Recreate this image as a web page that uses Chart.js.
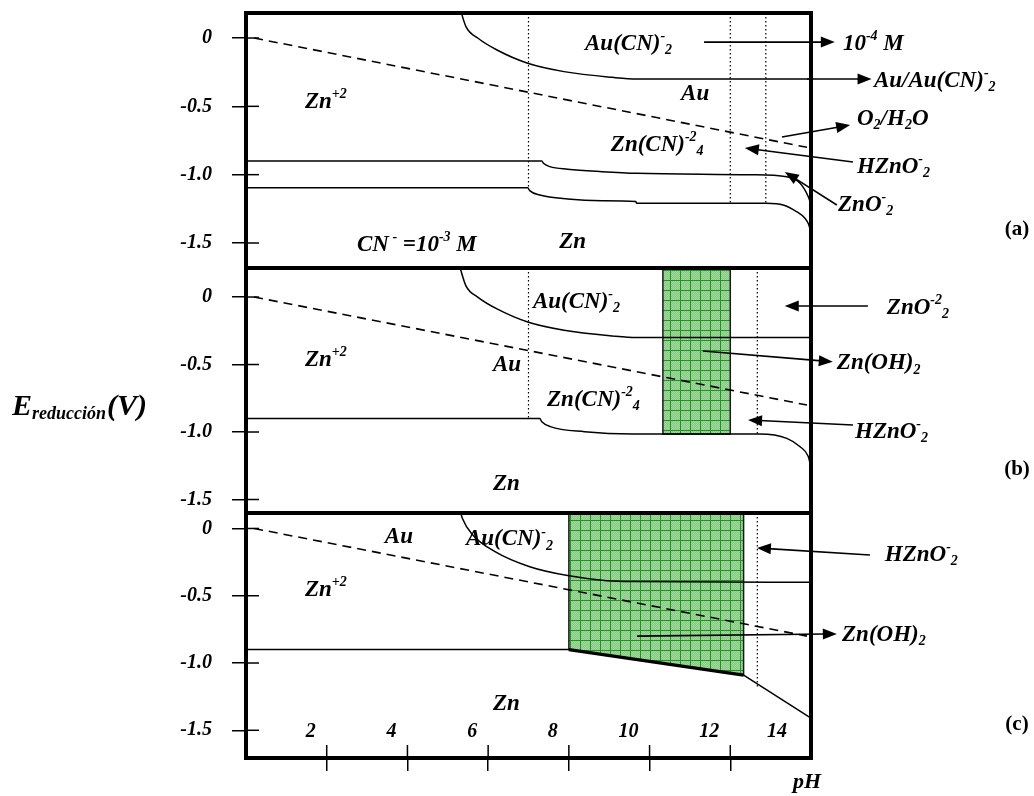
<!DOCTYPE html>
<html><head><meta charset="utf-8">
<script src="https://cdn.jsdelivr.net/npm/chart.js@4/dist/chart.umd.min.js"></script>
<style>
html,body{margin:0;padding:0;background:#fff;}
#wrap{position:relative;width:1034px;height:796px;overflow:hidden;background:#fff;}
#wrap canvas{position:absolute;left:0;top:0;}
</style></head><body>
<div id="wrap">
<canvas id="ca" width="1034" height="796"></canvas>
<canvas id="cb" width="1034" height="796"></canvas>
<canvas id="cc" width="1034" height="796"></canvas>
</div>
<script>
// ---------- tick labels ----------
const xTickValues = [2, 4, 6, 8, 10, 12, 14];
const xTickLabels = ['2', '4', '6', '8', '10', '12', '14'];
const yTickValues = [0, -0.5, -1.0, -1.5];
const yTickLabels = ['0', '-0.5', '-1.0', '-1.5'];

// ---------- shared: H2 / water line (dashed) ----------
const h2PH = [0.2, 13.9];
const h2E  = [0.0, -0.80];

// ---------- panel (a) ----------
const auAB_PH = [5.30, 5.45, 5.75, 6.22, 6.98, 7.88, 9.08, 9.68, 14.0];
const auAB_E  = [0.22, 0.083, -0.002, -0.088, -0.185, -0.246, -0.288, -0.300, -0.300];
const znUpA_PH = [0, 7.33, 7.37, 7.53, 7.97, 8.82, 9.68, 12.5, 13.4, 13.73, 13.93, 14.0];
const znUpA_E  = [-0.90, -0.90, -0.917, -0.941, -0.960, -0.978, -0.990, -1.000, -1.015, -1.063, -1.160, -1.220];
const znLoA_PH = [0, 6.98, 7.03, 7.28, 7.97, 8.82, 9.66, 9.68, 12.9, 13.31, 13.64, 13.85, 13.93, 14.0];
const znLoA_E  = [-1.095, -1.095, -1.117, -1.149, -1.178, -1.190, -1.197, -1.210, -1.210, -1.222, -1.270, -1.319, -1.356, -1.420];
const dotA_PH = [7.0, 12.0, 12.88];
const dotA_E  = [-1.095, -1.21, -1.21];

// ---------- panel (b) ----------
const znB_PH = [0, 7.28, 7.33, 7.54, 8.39, 9.59, 12.73, 13.40, 13.73, 13.93, 14.0];
const znB_E  = [-0.90, -0.90, -0.924, -0.960, -0.998, -1.015, -1.015, -1.047, -1.109, -1.180, -1.260];
const dotB_PH = [7.0, 12.67];
const dotB_E  = [-0.90, -1.015];
const znOHB_PH = [10.33, 12.0];
const znOHB_E  = -1.015;

// ---------- panel (c) ----------
const auC_PH = [5.30, 5.36, 5.62, 6.17, 7.03, 7.97, 8.94, 9.68, 14.0];
const auC_E  = [0.14, 0.076, -0.048, -0.172, -0.284, -0.350, -0.388, -0.395, -0.400];
const znC_PH = [0, 8.0];
const znC_E  = [-0.90, -0.90];
const znOHC_PH = [8.0, 12.33];
const znOHC_E  = [-0.90, -1.09];
const znHC_PH = [12.33, 14.0];
const znHC_E  = [-1.09, -1.41];
const dotC_PH = [12.67];
const dotC_E  = [-1.19];

// ---------- annotations (data units: pH, E) ----------
const labelsA = [
  ['Zn^{+2}', 1.46, -0.454], ['Au(CN)^{-}_{2}', 8.4, -0.03], ['Au', 10.78, -0.40],
  ['Zn(CN)^{-2}_{4}', 9.04, -0.77], ['CN^{ -} =10^{-3} M', 2.75, -1.50], ['Zn', 7.76, -1.48],
  ['10^{-4} M', 14.79, -0.03], ['Au/Au(CN)^{-}_{2}', 15.56, -0.30], ['O_{2}/H_{2}O', 15.14, -0.578],
  ['HZnO^{-}_{2}', 15.14, -0.93], ['ZnO^{-}_{2}', 14.67, -1.207]
];
const arrowsA = [
  [11.35, -0.03, 14.59, -0.03], [13.9, -0.30, 15.5, -0.30], [13.28, -0.724, 14.97, -0.637],
  [15.04, -0.907, 12.36, -0.805], [14.64, -1.222, 13.35, -0.98]
];
const labelsB = [
  ['Zn^{+2}', 1.46, -0.452], ['Au(CN)^{-}_{2}', 7.11, -0.022], ['Au', 6.12, -0.489],
  ['Zn(CN)^{-2}_{4}', 7.46, -0.748], ['Zn', 6.12, -1.37],
  ['ZnO^{-2}_{2}', 15.88, -0.067], ['Zn(OH)_{2}', 14.64, -0.48], ['HZnO^{-}_{2}', 15.09, -0.985]
];
const arrowsB = [
  [15.41, -0.067, 13.35, -0.067], [11.32, -0.40, 14.54, -0.48], [15.04, -0.948, 12.44, -0.911]
];
const labelsC = [
  ['Au', 3.44, -0.048], ['Au(CN)^{-}_{2}', 5.45, -0.07], ['Zn^{+2}', 1.46, -0.442], ['Zn', 6.12, -1.29],
  ['HZnO^{-}_{2}', 15.83, -0.182], ['Zn(OH)_{2}', 14.77, -0.777]
];
const arrowsC = [
  [15.46, -0.197, 12.66, -0.145], [9.69, -0.80, 14.64, -0.784]
];

// ---------- helpers ----------
const FONT = '"Liberation Serif", "Times New Roman", serif';
function pts(xs, ys) { return xs.map((x, i) => ({x: x, y: ys[i]})); }
function line(xs, ys, o) {
  return Object.assign({data: pts(xs, ys), borderColor: '#000', borderWidth: 1.5, pointRadius: 0,
    fill: false, tension: 0}, o || {});
}
function curve(xs, ys) { return line(xs, ys, {cubicInterpolationMode: 'monotone'}); }
function dotted(phs, ends, top) {
  return phs.map((p, i) => line([p, p], [top, ends[i]], {borderDash: [1.5, 2.5], borderWidth: 1.2}));
}

const patCanvas = document.createElement('canvas');
patCanvas.width = 10; patCanvas.height = 10;
(function () {
  const g = patCanvas.getContext('2d');
  g.fillStyle = '#86c983'; g.fillRect(0, 0, 10, 10);
  g.fillStyle = '#a3d8a0';
  for (let i = 0; i < 10; i++) for (let j = 0; j < 10; j++) if ((i + j) % 2 === 0) g.fillRect(i, j, 1, 1);
  g.fillStyle = '#229322'; g.fillRect(0, 0, 10, 1); g.fillRect(0, 0, 1, 10);
})();
const greenPattern = document.createElement('canvas').getContext('2d').createPattern(patCanvas, 'repeat');

function richParts(s) {
  const out = []; const re = /\^\{([^}]*)\}|_\{([^}]*)\}|([^\^_]+)/g; let m;
  while ((m = re.exec(s))) {
    if (m[1] !== undefined) out.push([m[1], 'sup']);
    else if (m[2] !== undefined) out.push([m[2], 'sub']);
    else out.push([m[3], '']);
  }
  return out;
}
function drawRich(ctx, s, x, y, size) {
  const parts = richParts(s);
  const small = Math.round(size * 0.62);
  const f = sz => 'italic bold ' + sz + 'px ' + FONT;
  ctx.textBaseline = 'alphabetic'; ctx.textAlign = 'left'; ctx.fillStyle = '#000';
  const base = y + size * 0.33;
  let cx = x;
  parts.forEach(([t, m]) => {
    ctx.font = f(m ? small : size);
    let yy = base;
    if (m === 'sup') yy = base - size * 0.42;
    if (m === 'sub') yy = base + size * 0.2;
    ctx.fillText(t, cx, yy);
    cx += ctx.measureText(t).width;
  });
}
function arrow(ctx, x1, y1, x2, y2) {
  const a = Math.atan2(y2 - y1, x2 - x1), L = 14, W = 5.5;
  ctx.beginPath(); ctx.moveTo(x1, y1); ctx.lineTo(x2 - L * 0.8 * Math.cos(a), y2 - L * 0.8 * Math.sin(a)); ctx.stroke();
  ctx.beginPath(); ctx.moveTo(x2, y2);
  ctx.lineTo(x2 - L * Math.cos(a) + W * Math.sin(a), y2 - L * Math.sin(a) - W * Math.cos(a));
  ctx.lineTo(x2 - L * Math.cos(a) - W * Math.sin(a), y2 - L * Math.sin(a) + W * Math.cos(a));
  ctx.closePath(); ctx.fill();
}

function panelPlugin(cfg) {
  return {
    id: 'panel_' + cfg.tag,
    afterDraw(chart) {
      const ctx = chart.ctx, ca = chart.chartArea, xs = chart.scales.x, ys = chart.scales.y;
      ctx.save();
      ctx.strokeStyle = '#000'; ctx.fillStyle = '#000'; ctx.lineWidth = 1.5;
      // inner half of y ticks
      yTickValues.forEach(v => {
        const py = ys.getPixelForValue(v);
        ctx.beginPath(); ctx.moveTo(ca.left, py); ctx.lineTo(ca.left + 13, py); ctx.stroke();
      });
      if (cfg.showX) {
        ctx.font = 'italic bold 20px ' + FONT; ctx.textAlign = 'right'; ctx.textBaseline = 'middle';
        xTickValues.forEach((v, i) => {
          const px = xs.getPixelForValue(v);
          if (v < 14) {
            ctx.beginPath(); ctx.moveTo(px, ca.bottom - 13); ctx.lineTo(px, ca.bottom); ctx.stroke();
          }
          ctx.fillText(xTickLabels[i], Math.min(px - 11, ca.right - 24), ca.bottom - 26);
        });
        // x-axis title
        ctx.font = 'italic bold 22px ' + FONT; ctx.textAlign = 'left'; ctx.textBaseline = 'middle';
        ctx.fillText('pH', ca.right - 18, ca.bottom + 24);
      }
      // arrows
      ctx.lineWidth = 1.6;
      cfg.arrows.forEach(a => arrow(ctx, xs.getPixelForValue(a[0]), ys.getPixelForValue(a[1]),
                                        xs.getPixelForValue(a[2]), ys.getPixelForValue(a[3])));
      // labels
      cfg.labels.forEach(l => drawRich(ctx, l[0], xs.getPixelForValue(l[1]), ys.getPixelForValue(l[2]), 23));
      // panel tag (a)/(b)/(c)
      ctx.font = 'bold 21px ' + FONT; ctx.textAlign = 'center'; ctx.textBaseline = 'middle';
      ctx.fillText('(' + cfg.tag + ')', ca.right + 206, ca.top + cfg.tagOffset);
      // y title
      if (cfg.yTitle) {
        const ty = ys.getPixelForValue(-0.80);
        let tx = 12;
        ctx.textAlign = 'left'; ctx.textBaseline = 'alphabetic';
        ctx.font = 'italic bold 30px ' + FONT; ctx.fillText('E', tx, ty + 10); tx += ctx.measureText('E').width;
        ctx.font = 'italic bold 18px ' + FONT; ctx.fillText('reducción', tx, ty + 14); tx += ctx.measureText('reducción').width + 1;
        ctx.font = 'italic bold 30px ' + FONT; ctx.fillText('(V)', tx, ty + 10);
      }
      // frame
      ctx.lineWidth = 4;
      ctx.strokeRect(ca.left, ca.top, ca.right - ca.left, ca.bottom - ca.top);
      ctx.restore();
    }
  };
}

function makePanel(id, cfg) {
  const tickFont = {family: FONT, size: 20, style: 'italic', weight: 'bold'};
  const xOpts = {
    type: 'linear', min: 0, max: 14, display: cfg.showX, position: 'bottom',
    afterFit: s => {
      s.height = cfg.showX ? 38 : 0;
      s.paddingLeft = 0; s.paddingRight = 0; s.paddingTop = 0; s.paddingBottom = 0;
    },
    afterBuildTicks: s => { s.ticks = xTickValues.map(v => ({value: v})); },
    ticks: {display: false, callback: v => xTickLabels[xTickValues.indexOf(v)], autoSkip: false, maxRotation: 0},
    grid: {drawOnChartArea: false, tickLength: 13, lineWidth: 1.5,
           color: c => (c.tick && c.tick.value >= 14) ? 'rgba(0,0,0,0)' : '#000'},
    border: {display: false},
    title: {display: false, text: 'pH'}
  };
  return new Chart(document.getElementById(id), {
    type: 'line',
    data: {datasets: cfg.datasets},
    options: {
      responsive: false, animation: false, devicePixelRatio: 1,
      layout: {padding: {left: 0, right: 223, top: cfg.padTop, bottom: cfg.padBottom}},
      plugins: {legend: {display: false}, tooltip: {enabled: false}},
      elements: {point: {radius: 0}},
      events: [],
      scales: {
        x: xOpts,
        y: {
          type: 'linear', min: cfg.yMin, max: cfg.yMax,
          afterFit: s => {
            s.width = 246;
            s.paddingLeft = 0; s.paddingRight = 0; s.paddingTop = 0; s.paddingBottom = 0;
          },
          afterBuildTicks: s => { s.ticks = yTickValues.map(v => ({value: v})); },
          ticks: {callback: v => yTickLabels[yTickValues.indexOf(v)], font: tickFont, color: '#000', padding: 20},
          grid: {drawOnChartArea: false, tickLength: 14, color: '#000', lineWidth: 1.5},
          border: {display: false}
        }
      }
    },
    plugins: [panelPlugin(cfg)]
  });
}

const dashed = () => line(h2PH, h2E, {borderDash: [9, 6], borderWidth: 1.6});

// panel a
const aMin = -1.683, aMax = 0.183;
makePanel('ca', {
  tag: 'a', tagOffset: 217, padTop: 13, padBottom: 528, yMin: aMin, yMax: aMax, showX: false,
  labels: labelsA, arrows: arrowsA,
  datasets: [dashed(), curve(auAB_PH, auAB_E), curve(znUpA_PH, znUpA_E), curve(znLoA_PH, znLoA_E)]
    .concat(dotted(dotA_PH, dotA_E, aMax))
});

// panel b
const bMin = -1.60, bMax = 0.215;
makePanel('cb', {
  tag: 'b', tagOffset: 202, padTop: 268, padBottom: 283, yMin: bMin, yMax: bMax, showX: false, yTitle: true,
  labels: labelsB, arrows: arrowsB,
  datasets: [dashed(), curve(auAB_PH, auAB_E), curve(znB_PH, znB_E)]
    .concat(dotted(dotB_PH, dotB_E, bMax))
    .concat([line([znOHB_PH[0], znOHB_PH[1], znOHB_PH[1], znOHB_PH[0], znOHB_PH[0]],
                  [bMax + 0.1, bMax + 0.1, znOHB_E, znOHB_E, bMax + 0.1],
                  {fill: 'shape', backgroundColor: greenPattern, borderColor: '#1a1a1a', borderWidth: 1.5})])
});

// panel c
const cMin = -1.706, cMax = 0.115;
makePanel('cc', {
  tag: 'c', tagOffset: 212, padTop: 513, padBottom: 0, yMin: cMin, yMax: cMax, showX: true,
  labels: labelsC, arrows: arrowsC,
  datasets: [dashed(), curve(auC_PH, auC_E), line(znC_PH, znC_E), line(znOHC_PH, znOHC_E, {borderWidth: 3.2}),
             line(znHC_PH, znHC_E)]
    .concat(dotted(dotC_PH, dotC_E, cMax))
    .concat([line([znOHC_PH[0], znOHC_PH[1], znOHC_PH[1], znOHC_PH[0], znOHC_PH[0]],
                  [cMax + 0.1, cMax + 0.1, znOHC_E[1], znOHC_E[0], cMax + 0.1],
                  {fill: 'shape', backgroundColor: greenPattern, borderColor: '#1a1a1a', borderWidth: 1.5})])
});
</script>
</body></html>
